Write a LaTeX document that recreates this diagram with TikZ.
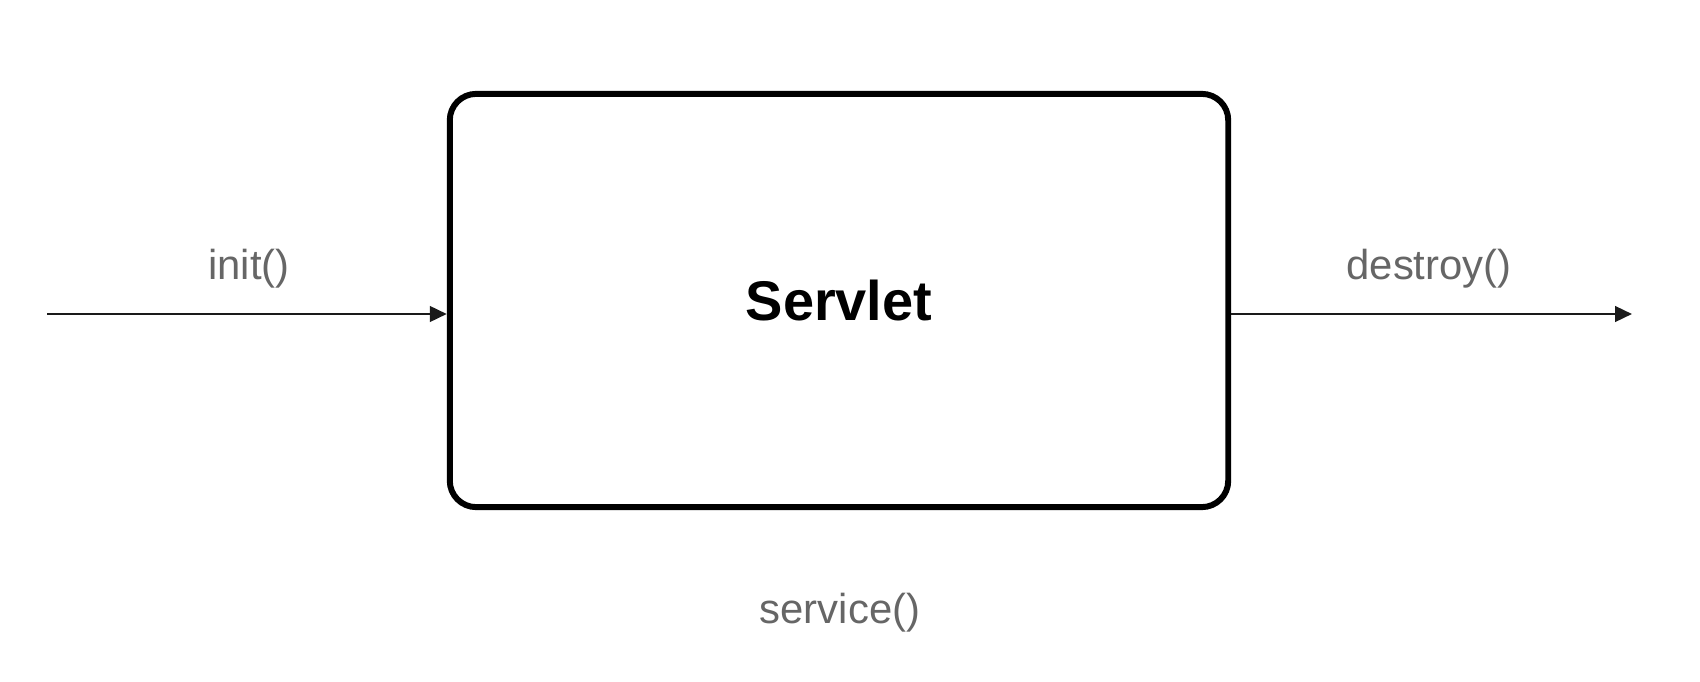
\documentclass[tikz,border=0pt]{standalone}
\usepackage{fontspec}
\setmainfont{Liberation Sans}
\usetikzlibrary{arrows.meta}
\definecolor{lblgray}{HTML}{666666}
\definecolor{arrgray}{HTML}{1A1A1A}
\begin{document}
\begin{tikzpicture}[x=0.01cm,y=-0.01cm,
  boxstyle/.style={draw=black,line width=1.7pt,rounded corners=7.5pt,
    minimum width=7.78cm,minimum height=4.13cm,inner sep=0pt,
    font=\fontsize{15.9}{18}\selectfont\bfseries},
  arr/.style={draw=arrgray,line width=0.75pt,-{Triangle[length=4.8pt,width=4.4pt]}},
  lbl/.style={text=lblgray,anchor=base,inner sep=0pt,font=\fontsize{11.9}{14}\selectfont}]
\useasboundingbox[fill=white] (0,0) rectangle (1700,682);
\node[boxstyle] (servlet) at (839,300.5) {Servlet};
\coordinate (start) at (47,314);
\coordinate (finish) at (1632,314);
\draw[arr] (start) -- (start -| servlet.west);
\draw[arr] (servlet.east |- finish) -- (finish);
\node[lbl] (init) at (249,280) {init()};
\node[lbl] (destroy) at (1429,280) {destroy()};
\node[lbl] (service) at (840,623) {service()};
\end{tikzpicture}
\end{document}
